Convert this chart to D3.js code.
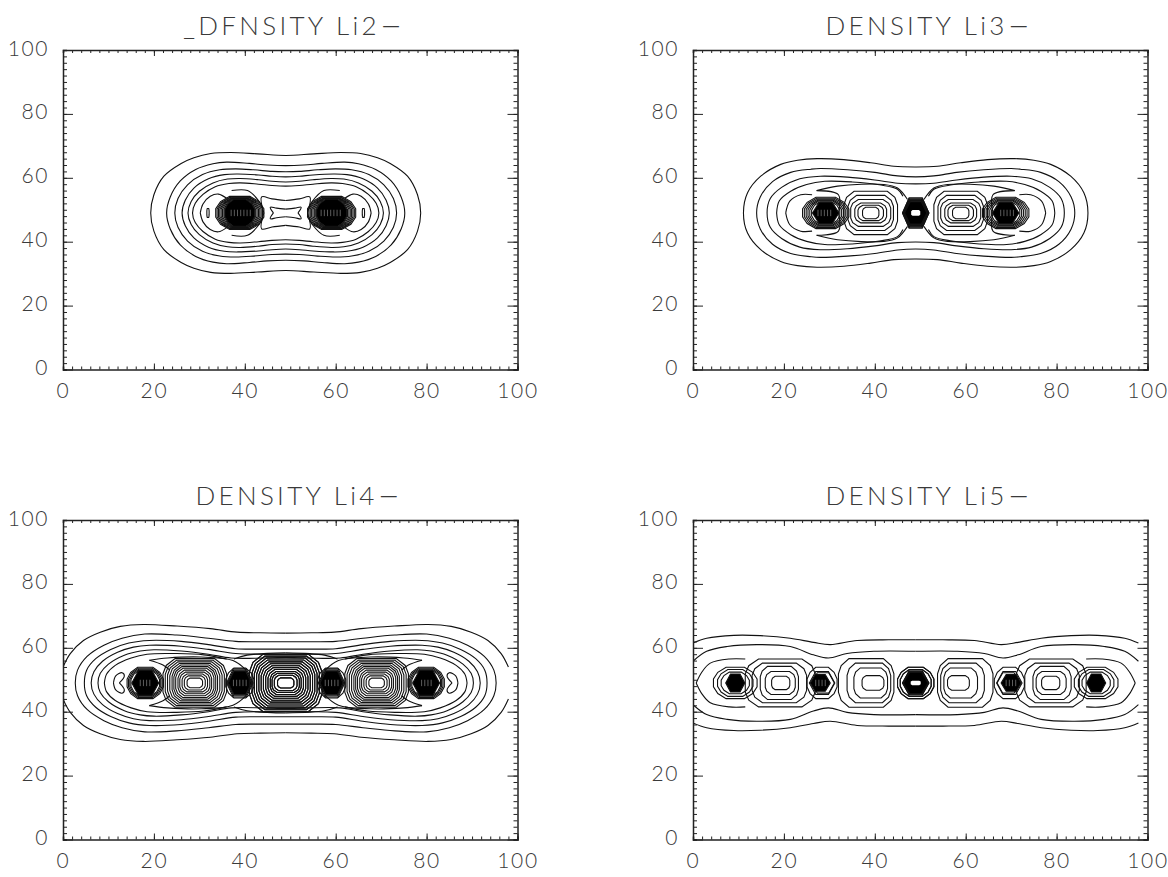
<!DOCTYPE html>
<html><head><meta charset="utf-8">
<script src="https://cdn.jsdelivr.net/npm/d3@7"></script>
<style>html,body{margin:0;background:#fff}svg{display:block}text{font-family:Lato,"Open Sans",sans-serif;font-weight:300;fill:#3a3a3a}</style>
</head><body><svg id="c" width="1168" height="877"></svg>
<script>
// Each contour is one quadrant [dx,dy] measured from the molecule centre; it is mirrored.
const titleTexts = ["_DFNSITY Li2","DENSITY Li3","DENSITY Li4","DENSITY Li5"];
const titleCharge = "\u2212";
const majorTicks = [0,20,40,60,80,100];
const minorTicks = d3.range(0,101,2);
const centre = [49,49];

const li2Contours = [
 [[-29.7,0],[-29,5.7],[-26.8,11.5],[-23,15.5],[-20.2,17.3],[-16.5,18.6],[-12.1,18.9],[-6.2,18.5],[0,18]],
 [[-26.2,0],[-25.4,5],[-23.2,10],[-19.8,13.6],[-16,15.4],[-13,15.9],[-8,15.5],[-4,15],[0,14.8]],
 [[-24.4,0],[-23.7,4.5],[-21.6,8.8],[-18.3,12],[-14.5,13.5],[-11,13.8],[-7,13.5],[-3,13],[0,12.9]],
 [[-22.8,0],[-22.1,4],[-20.2,7.8],[-17,10.7],[-13.5,12],[-10.5,12.2],[-6,11.9],[-3,11.5],[0,11.3]],
 [[-21.5,0],[-20.8,3.6],[-19,6.8],[-16,9.4],[-12.8,10.6],[-10,10.8],[-6,10.4],[-3,9.9],[0,9.7]],
 [[-20.5,0],[-19.9,3],[-18.2,5.8],[-15.5,8.2],[-12.5,9.2],[-10,9.4],[-6,9],[-3,8.6],[0,8.4]]
];
const li2Open = [
 [[-18.8,0],[-18.2,2.8],[-16.6,5.2],[-14.8,5.9],[-13,4.6]],
 [[-11.9,7],[-8.4,7],[-5.9,3.7],[-5.1,1.5]],
 [[-4.8,0],[-5.3,5],[-3,4.4],[0,3.9]],
 [[-2.7,0],[-3.4,1.8],[-2,1.5],[0,1.2]]
];
const li2Rings = [[-10.1,5.3,5.2],[-10.1,5,5],[-10.1,4.7,4.9],[-10.1,4.4,4.7],[-10.1,4.1,4.6],[-10.1,3.8,4.5],[-10.1,3.5,4.4]];
const li2Lobes = [[-17.1,0.25,1.4]];
const li2Cores = [[-10.1,3.3,4.2]];
const li2Holes = [];
const li2Streaks = [-12,-11.3,-10.6,-9.9,-9.2,-8.5,-7.8];

const li3Contours = [
 [[-37.9,0],[-37,6.3],[-34.1,11.5],[-29.7,15.2],[-26,16.5],[-21.7,17],[-15.8,16.7],[-9.9,15.7],[-4.8,14.6],[0,14.4]],
 [[-35,0],[-34.2,5],[-31.5,9.8],[-27.5,12.7],[-23,13.7],[-21,13.9],[-15,13.5],[-9,12.7],[-4,11.6],[0,11.3]],
 [[-32.7,0],[-32,4.5],[-29.5,8],[-25.5,10.7],[-21,11.5],[-15,11.2],[-9,10.3],[-4,9.3],[0,9.1]]
];
const li3Open = [
 [[-30.6,0],[-30,3.8],[-27.5,6.8],[-24,8.9],[-20,9.9],[-14,9.7],[-8,8.8],[-4,7.4],[-2.8,5.2]],
 [[-28.6,0],[-27.7,3.7],[-25.3,5.7],[-22.8,5.7]],
 [[-21.8,7],[-17.2,8.4],[-7,8.9],[-4,7.8],[-1.8,4.2]],
 [[-21.8,7],[-17,5.7],[-17,0]]
];
const li3Rings = [[-19.8,5.1,4.9],[-19.8,4.7,4.6],[-19.8,4.3,4.3],[-19.8,3.9,4],[-19.8,3.5,3.8],[-19.8,3.1,3.5],
 [0,2.9,4.7],[0,2.7,4.3],[0,2.5,3.9]];
const li3Lobes = [[-9.9,5.9,6.8],[-9.9,5,5.5],[-9.9,4.4,4.2],[-9.9,3.5,3.1],[-9.9,2.8,2.4],[-9.9,1.8,1.8]];
const li3Cores = [[-19.8,2.9,3.3],[0,2.45,3.5]];
const li3Holes = [[0,1,0.9]];
const li3Streaks = [-21.5,-20.8,-20.1,-19.4,-18.7];

const li4Contours = [
 [[-46.3,0],[-45.8,4],[-43.7,8.3],[-40,11.8],[-36,14],[-31,15.3],[-24,15],[-17,14],[-11,13],[-5,12.9],[0,12.9]],
 [[-44.3,0],[-43.8,4],[-41.8,7.6],[-38.5,10.5],[-34.5,12.5],[-30,13.3],[-23,13],[-17,12],[-11,10.7],[-5,10.6],[0,10.6]],
 [[-42.8,0],[-42.2,3.5],[-40.3,6.8],[-37,9.6],[-33.5,11.2],[-30,11.8],[-23,11.5],[-17,10.5],[-11,9.2],[-5,9],[0,9]],
 [[-41.3,0],[-40.8,3],[-39,5.9],[-35.5,8.7],[-32,10],[-29,10.4],[-23,10],[-17,9],[-12,7.8],[-5,7.8],[0,8]]
];
const li4Open = [
 [[-49,5],[-47.4,9.2],[-44.5,13.3],[-40.8,15.9],[-36.4,17.7],[-31.3,18.3],[-23.9,17.8],[-16.6,17],[-10.7,15.9],[-5.6,15.7],[0,15.6]],
 [[-39.9,0],[-39.4,2.8],[-37.5,5.5],[-34,7.8],[-30.5,9],[-24,9.2],[-18,8.8],[-13,7.5]],
 [[-37.9,0],[-37.4,2.2],[-36,3.2],[-35.5,2.2],[-36.6,0]],
 [[-30,7.1],[-26,7.8],[-18.6,8.1],[-11.6,7],[-8.7,4]],
 [[-30,7.1],[-27,5.6],[-25.5,4]],
 [[-11.4,7.5],[-8.5,8.7],[0,9.4]]
];
const li4Rings = [[-30.9,4,4.9],[-30.9,3.7,4.6],[-30.9,3.4,4.3],[-30.9,3.15,4],
 [-10.1,3.1,4.7],[-10.1,2.9,4.4],[-10.1,2.7,4]];
const li4Lobes = [[-20,7,7.6],[-20,6.5,7.1],[-20,6,6.6],[-20,5.5,6.1],[-20,5,5.6],[-20,4.6,5.1],[-20,4.2,4.6],[-20,3.7,4],[-20,3.3,3.4],[-20,2.8,2.8],[-20,2.3,2.2],[-20,1.7,1.5],
 [0,8,9],[0,7.4,8.4],[0,6.9,7.8],[0,6.4,7.2],[0,5.9,6.6],[0,5.4,6],[0,4.9,5.4],[0,4.4,4.8],[0,3.9,4.2],[0,3.4,3.6],[0,3,3],[0,2.5,2.4],[0,1.8,1.6]];
const li4Cores = [[-30.9,2.95,3.9],[-10.1,2.55,3.7]];
const li4Holes = [];
const li4Streaks = [-32,-31.3,-30.6,-29.9,-11.5,-10.8,-10.1,-9.4,-8.7];

const li5Contours = [];
const li5Open = [
 [[-49,12.5],[-46,14],[-40,14.9],[-34.2,14.8],[-27.6,14],[-22.5,12.7],[-18.8,12],[-12.9,13.3],[-6,13.5],[0,13.5]],
 [[-49,6.8],[-46,9.9],[-41.5,11.4],[-35,12],[-27.6,11.4],[-22.5,8.8],[-19.2,7.8],[-15.1,9.2],[-9.2,9.9],[0,9.9]],
 [[-48.3,0],[-47,3.5],[-45.2,6.2],[-41,7.5],[-37.5,7.5]]
];
const li5Rings = [[-39.7,4.8,4.9],[-39.7,3.9,4.2],[-39.7,3.1,3.4],
 [-20.6,3.3,4.9],[-20.6,2.8,3.6],[-20.4,2.5,3.2],
 [0,4,4.9],[0,3.4,4.2],[0,2.9,3.7]];
const li5Lobes = [[-29.8,7.7,7.5],[-30,6,6.2],[-30,4.2,5.2],[-29.8,3.3,3.6],[-29.7,2,2.1],
 [-10.9,6.1,7.6],[-10.3,4.8,6.2],[-9.9,3.7,4.7],[-9.4,2.4,2.3]];
const li5Cores = [[-39.7,2.1,2.8],[-21,2.2,2.6],[0,2.7,3.3]];
const li5Holes = [[0,1.1,0.7]];
const li5Streaks = [-22,-21.3,-20.6,-19.9];

const panels = [
 {title:titleTexts[0],left:63,top:50,dt:4,contours:li2Contours,open:li2Open,rings:li2Rings,lobes:li2Lobes,cores:li2Cores,holes:li2Holes,streaks:li2Streaks},
 {title:titleTexts[1],left:693,top:50,dt:9,contours:li3Contours,open:li3Open,rings:li3Rings,lobes:li3Lobes,cores:li3Cores,holes:li3Holes,streaks:li3Streaks},
 {title:titleTexts[2],left:63,top:520,dt:9,contours:li4Contours,open:li4Open,rings:li4Rings,lobes:li4Lobes,cores:li4Cores,holes:li4Holes,streaks:li4Streaks},
 {title:titleTexts[3],left:693,top:520,dt:9,contours:li5Contours,open:li5Open,rings:li5Rings,lobes:li5Lobes,cores:li5Cores,holes:li5Holes,streaks:li5Streaks}
];
const W = 454.5, H = 319.5;
const svg = d3.select("#c");
const mirrors = [[1,1],[-1,1],[1,-1],[-1,-1]];

function closedLoop(q){
  const a = q.map(p=>[p[0],p[1]]);
  const b = q.slice(0,-1).reverse().map(p=>[-p[0],p[1]]);
  const c = q.slice(1).map(p=>[-p[0],-p[1]]);
  const d = q.slice(1,-1).reverse().map(p=>[p[0],-p[1]]);
  return a.concat(b,c,d);
}
const hexShape = [[1,0],[.5,1],[-.5,1],[-1,0],[-.5,-1],[.5,-1]];
const rectShape = [[1,.6],[.7,1],[-.7,1],[-1,.6],[-1,-.6],[-.7,-1],[.7,-1],[1,-.6]];
const roundShape = [[1,.25],[.8,.68],[.42,1],[-.42,1],[-.8,.68],[-1,.25],[-1,-.25],[-.8,-.68],[-.42,-1],[.42,-1],[.8,-.68],[1,-.25]];
const lobeShape = [[1,.38],[.9,.72],[.62,1],[-.62,1],[-.9,.72],[-1,.38],[-1,-.38],[-.9,-.72],[-.62,-1],[.62,-1],[.9,-.72],[1,-.38]];
function ringPts(r,shape){ return shape.map(s=>[r[0]+s[0]*r[1],s[1]*r[2]]); }

panels.forEach((p,i)=>{
  const g = svg.append("g").attr("transform",`translate(${p.left},${p.top})`);
  const x = d3.scaleLinear().domain([0,100]).range([0,W]);
  const y = d3.scaleLinear().domain([0,100]).range([H,0]);
  const px = d=>x(centre[0]+d[0]), py = d=>y(centre[1]+d[1]);
  const cid = "clip"+i;
  g.append("clipPath").attr("id",cid).append("rect").attr("width",W).attr("height",H);
  const plot = g.append("g").attr("clip-path",`url(#${cid})`).attr("fill","none").attr("stroke","#111").attr("stroke-width",1.1);
  const smooth = d3.line().x(px).y(py).curve(d3.curveCatmullRomClosed.alpha(.5));
  const smoothOpen = d3.line().x(px).y(py).curve(d3.curveCatmullRom.alpha(.5));
  const straight = d3.line().x(px).y(py).curve(d3.curveLinearClosed);
  p.contours.forEach(q=>plot.append("path").attr("d",smooth(closedLoop(q))));
  p.open.forEach(q=>mirrors.forEach(m=>plot.append("path").attr("d",smoothOpen(q.map(c=>[c[0]*m[0],c[1]*m[1]])))));
  [1,-1].forEach(m=>{
    p.lobes.forEach(r=>plot.append("path").attr("d",straight(ringPts([m*r[0],r[1],r[2]],lobeShape))));
    p.rings.forEach(r=>plot.append("path").attr("d",straight(ringPts([m*r[0],r[1],r[2]],r[1]<3?hexShape:roundShape))));
    p.cores.forEach(r=>plot.append("path").attr("fill","#000").attr("d",straight(ringPts([m*r[0],r[1],r[2]],r[1]<3?hexShape:roundShape))));
    p.holes.forEach(r=>plot.append("path").attr("fill","#fff").attr("stroke","none").attr("d",straight(ringPts([m*r[0],r[1],r[2]],rectShape))));
    p.streaks.forEach(s=>plot.append("line").attr("x1",px([m*s,0])).attr("x2",px([m*s,0])).attr("y1",py([0,1])).attr("y2",py([0,-1])).attr("stroke","#666").attr("stroke-width",.9));
  });
  const axisSet = [
    {gen:d3.axisBottom(x),t:`translate(0,${H})`,maj:-6,min:-3,lab:true},
    {gen:d3.axisTop(x),t:"translate(0,0)",maj:-6,min:-3,lab:false},
    {gen:d3.axisLeft(y),t:"translate(0,0)",maj:-10,min:-4,lab:true},
    {gen:d3.axisRight(y),t:`translate(${W},0)`,maj:-10,min:-4,lab:false}
  ];
  axisSet.forEach(a=>{
    const gm = g.append("g").attr("transform",a.t).call(a.gen.tickValues(minorTicks).tickSize(a.min).tickFormat(""));
    gm.selectAll("line").attr("stroke","#222").attr("stroke-width",1);
    gm.select(".domain").attr("stroke","#222").attr("stroke-width",1.5);
    const gM = g.append("g").attr("transform",a.t).call(a.gen.tickValues(majorTicks).tickSize(a.maj).tickFormat(a.lab?d3.format("d"):""));
    gM.select(".domain").remove();
    gM.selectAll("line").attr("stroke","#222").attr("stroke-width",1);
    gM.selectAll("text").attr("font-size",21).attr("letter-spacing",1.6).attr("font-family",null).attr("fill",null);
  });
  g.selectAll("g.tick text").filter(function(){return this.textContent!=""}).each(function(){
     const t=d3.select(this);
     if(t.attr("x")!==null && +t.attr("x")<0){ t.attr("x",-14).attr("dy","0.24em"); }
     else if(t.attr("y")!==null){ t.attr("y",14).attr("dy","0.71em"); }
  });
  const tt = svg.append("text").attr("x",p.left+W/2+p.dt).attr("y",p.top-15).attr("text-anchor","middle").attr("font-size",26).attr("letter-spacing",3.3).text(p.title);
  tt.append("tspan").attr("font-size",38).attr("dy",3.5).text(titleCharge);
});
</script></body></html>
